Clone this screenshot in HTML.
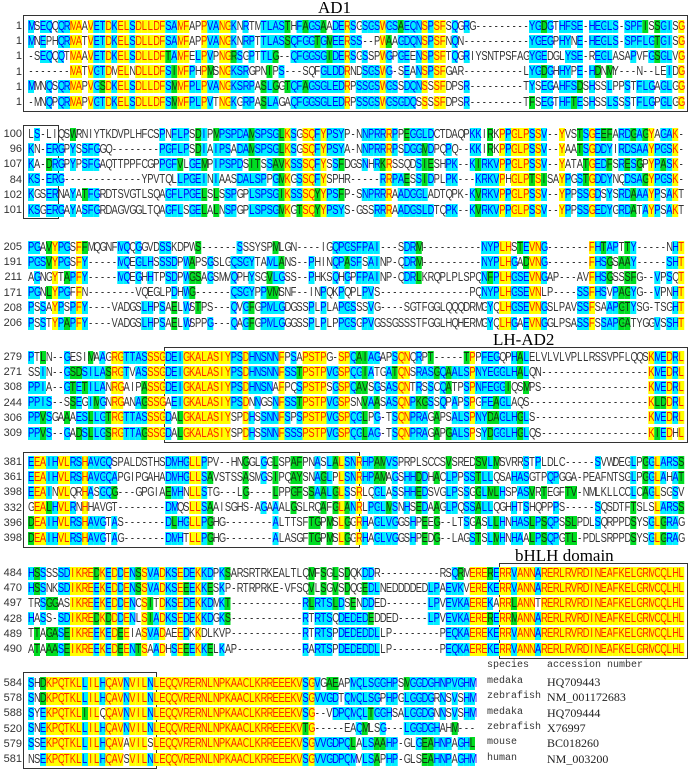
<!DOCTYPE html>
<html><head><meta charset="utf-8">
<style>
html,body{margin:0;padding:0;background:#fff;}
body{width:691px;height:779px;position:relative;overflow:hidden;font-family:"Liberation Sans",sans-serif;}
#wrap{position:absolute;left:0;top:0;width:691px;height:779px;overflow:hidden;}
.blk{position:absolute;left:0;width:691px;}
.num{position:absolute;left:-8px;width:30px;text-align:right;font-size:11px;line-height:14px;height:14px;color:#333;}
.seq{position:absolute;left:28px;white-space:nowrap;transform:scaleX(0.75);transform-origin:0 0;font-size:12.5px;line-height:13px;height:13px;color:#333;}
.seq span{display:inline-block;width:7.96px;height:13px;text-align:center;vertical-align:top;}
.y{background:#ffff00;color:#ff2200;}
.c{background:#00eeff;color:#0000ff;}
.g{background:#00dd22;color:#113311;}
.box{position:absolute;border:1.5px solid #333;box-sizing:border-box;}
.lab{position:absolute;font-family:"Liberation Serif",serif;font-size:17px;color:#000;line-height:17px;}
.sp{position:absolute;font-family:"Liberation Mono",monospace;font-size:10px;color:#333;line-height:12px;}
.ac{position:absolute;font-family:"Liberation Serif",serif;font-size:12px;color:#222;line-height:12px;}
</style></head><body>
<div id="wrap">
<div class="lab" style="left:318px;top:-1px;">AD1</div>
<div class="lab" style="left:493px;top:331px;">LH-AD2</div>
<div class="lab" style="left:515px;top:547px;">bHLH domain</div>

<div class="box" style="left:23px;top:15px;width:665px;height:97px;"></div>
<div class="box" style="left:23px;top:125px;width:36px;height:94px;"></div>
<div class="box" style="left:164px;top:347px;width:524px;height:96px;"></div>
<div class="box" style="left:23px;top:452px;width:337px;height:96px;"></div>
<div class="box" style="left:499px;top:563px;width:189px;height:96px;"></div>
<div class="box" style="left:23px;top:672px;width:134px;height:97px;"></div>

<div class="blk" style="top:26px;">
<div class="num">1</div><div class="num">1</div><div class="num">1</div><div class="num">1</div><div class="num">1</div><div class="num">1</div>
<div class="seq">MSEQQQRMAAVETDKELSDLLDFSAMFAPPVANGKNRTMTLASTHFAGSAADERSGSGSWGSAEQNSPSFSQGRG---------YGDGTHFSE-HEGLS-SPFISSGISG</div>
<div class="seq">MNEPHQRMATVETDKELSDLLDFSAMFAPPVANGKNRPTTLASSQFGGTGMEERSS--PWAAGDQNSPSFNQN-----------YGEGPHYNE-HEGLS-SPFLGTGISG</div>
<div class="seq">-SEQQQTMAAVETDKELSDLLDFTAMFELPVPNGRSGPTTLG--QFGGSGIDERSGSSPWGPGEENSPSFTQGRIYSNTPSFAGYGEDGLYSE-REGLASAPVFGSGLVG</div>
<div class="seq">-------MATVGTDMELNDLLDFSIMFPHPMSNGKSRGPNIPS---SQFGLDDRNDSGSWG-SEANSPSFGAR----------LYGDGHHYPE-HDNMY---N--LEIDG</div>
<div class="seq">MMNQSQRMAPVGSDKELSDLLDFSMMFPLPVANGKSRPASLGGTQFAGSGLEDRPSSGSWGSSDQNSSSFDPSR---------TYSEGAHFSDSHSSLPPSTFLGAGLGG</div>
<div class="seq">-MNQPQRMAPVGTDKELSDLLDFSMMFPLPVTNGKGRPASLAGAQFGGSGLEDRPSSGSWGSGDQSSSSFDPSR---------TFSEGTHFTESHSSLSSSTFLGPGLGG</div>
</div>

<div class="blk" style="top:134px;">
<div class="num">100</div><div class="num">96</div><div class="num">107</div><div class="num">84</div><div class="num">102</div><div class="num">101</div>
<div class="seq">LS-LIQSWRNIYTKDVPLHFCSPNFLPSDIPMPSPDAMSPSGLKSGSQFYPSYP-NNPRRRPPEGGLDCTDAQPKKIRKPPGLPSSV--YVSTSGEEFARDGAGYAGAK-</div>
<div class="seq">KN-ERGPYSSFGGQ--------PGFLPSDIAIPSADAMSPSGLKSGSQFYPSYA-NNPRRRPSDGGMDPQPQ--KKIRKPPGLPSSV--YAATSGDDYIRDSAAYPGSK-</div>
<div class="seq">KA-DRGPYPSFGAQTTPPFCGPPGFVLGEMPIPSPDSITSSAVKSSSQFYSSFDGSNHRKRSSQDSIESHPK--KIRKVPPGLPSSV--YATATGEDFSRESGPYPASK-</div>
<div class="seq">KS-ERG-------------YPVTQLLPGEINIAASDALSPPGMKGSSQFYSPHR-----RRPAESSIDPLPK---KRKVPHGLPTSISAYPGSTGDDYNQDSAGYPGSK-</div>
<div class="seq">KGSERNAYATFGRDTSVGTLSQAGFLPGELSLSSPGPLSPSGIKSSSQYYPSFP-SNPRRRAADGGLADTQPK-KVRKVPPGLPSSV--YPPSSGDSYSRDAAAYPSAKT</div>
<div class="seq">KSGERGAYASFGRDAGVGGLTQAGFLSGELALNSPGPLSPSGMKGTSQYYPSYS-GSSRRRAADGSLDTQPK--KVRKVPPGLPSSV--YPPSSGEDYGRDATAYPSAKT</div>
</div>

<div class="blk" style="top:247px;">
<div class="num">205</div><div class="num">191</div><div class="num">211</div><div class="num">171</div><div class="num">208</div><div class="num">206</div>
<div class="seq">PGAVYPGSFFMQGNFMQQGGVDSSKDPWS------SSSYSPMLGN----IGQPGSFPAI---SDRM----------NYPLHSTEVNG-------FHTAPTTY-----NHT</div>
<div class="seq">PGSVYPGSFY-----MQEGLHSSSDPWAPSGSLGQSGYTAMLANS--PHINQPASFSAINP-QDRM----------NYPLHGADVNG-------FHSGSAAY-----SHT</div>
<div class="seq">AGNGYTAPFY-----MQEGHHTPSDPWGSAGSMVQPHYSGVLGSS--PHKSQHGPFPAINP-QDRLKRQPLPLSPQNFPLHGSEVNGAP---AVFHSGSSSFG--VPSQT</div>
<div class="seq">PGNLYPGFFN--------VQEGLPDHWG------QSGYPPVMSNF--INPQKPQPLPVS---------------PQNYPLHGSEVNLP----SSFHSVPAGYG--VPNHT</div>
<div class="seq">PSSAYPSPFY----VADGSLHPSAELWSTPS---QVGFGPMLGDGSSPLPLAPGSSSVG----SGTFGGLQQQDRMGYQLHGSEVNGSLPAVSSFSAAPGTYSG-TSGHT</div>
<div class="seq">PSSTYPAPFY----VADGSLHPSAELWSPPG---QAGFGPMLGGGSSPLPLPPGSGPVGSSGSSSTFGGLHQHERMGYQLHGAEVNGGLPSASSFSSAPGATYGGVSSHT</div>
</div>

<div class="blk" style="top:357px;">
<div class="num">279</div><div class="num">271</div><div class="num">308</div><div class="num">244</div><div class="num">306</div><div class="num">309</div>
<div class="seq">PTLN--GESIMAAGRGTTASSSGDEIGKALASIYPSDHNSNNFPSAPSTPG-SPQAIAGAPSQNQRPT-----TPPFEGQPHALELVLVLVPLLRSSVPFLQQSKMEDRL</div>
<div class="seq">SSIN--GSDSILASRGTVASSSGDEIGKALASIYPSDHNSNNFSSTPSTPVGSPQGIATGATQNSRASGQAALSPNYEGGLHALQN------------------KMEDRL</div>
<div class="seq">PPIA--GTETILANRGAIPASSGDEIGKALASIYPSDHNSNAFPQSPSTPSGSPQAVSGSASQNTRSSCQATPSPNFEGGIQSMPS------------------KMEDRL</div>
<div class="seq">PPIS--SSEGIMGNRGANAGSSGAEIGKALASIYPSDNNGSNFSSTPSTPVGSPSNVAASASQNPKGSSQPAPSPGFEAGLAQS--------------------KLDDRL</div>
<div class="seq">PPVSGAAAESLLGTRGTTASSSGDALGKALASIYSPDHSSNNFSPSPSTPVGSPQGLPG-TSQNPRAGAPSALSPNYDAGLHGLS-------------------KMEDRL</div>
<div class="seq">PPVS--GADSLLGSRGTTAGSSGDALGKALASIYSPDHSSNNFSSSPSTPVGSPQGLAG-TSQNPRAGAPGALSPSYDGGLHGLQS------------------KIEDHL</div>
</div>

<div class="blk" style="top:462px;">
<div class="num">381</div><div class="num">361</div><div class="num">398</div><div class="num">332</div><div class="num">396</div><div class="num">398</div>
<div class="seq">EEAIHVLRSHAVGQSPALDSTHSDMHGLLPPV--HNGGLGGLSPAFPNASLALSNRHPAMVSPRPLSCCSVSREDSVLMSVRRSTPLDLC-----SVWDEGLPGGLARSS</div>
<div class="seq">EEAIHVLRSHAVGQAPGIPGAHADMHGLLSAVSTSSASMGSIPQAYSNAGLPLSNRHPAMAGSHHDDHACLPPSSTLLQSAHASGTPQPGGA-PEAFNTSGLPGGLAHAT</div>
<div class="seq">EEAINVLQRHASGQG---GPGIAEMHNLLSTG---LG----LPPGFSSAALGLSSRLQGLASSHHEDSVGLPSSGGLMLHSPASVRTEGFTV-NMLKLLCCLCAGLSGSV</div>
<div class="seq">GEALHVLRNHHAVGT--------DMQSLLSAAISGHS-AGAAALGSLRQAFGLANRLPGLMSNHSEDAAGLPQSSALLQGHHTSHQPPPS-----SQSDTFTSLSLARSS</div>
<div class="seq">DEAIHVLRSHAVGTAS-------DLHGLLPGHG--------ALTTSFTGPMSLGGRHAGLVGGSHPEEG--LTSGASLLHNHASLPSQPSSLPDLSQRPPDSYSGLGRAG</div>
<div class="seq">DEAIHVLRSHAVGTAG-------DMHTLLPGHG--------ALASGFTGPMSLGGRHAGLVGGSHPEDG--LAGSTSLMHNHAALPSQPGTL-PDLSRPPDSYSGLGRAG</div>
</div>

<div class="blk" style="top:573px;">
<div class="num">484</div><div class="num">470</div><div class="num">497</div><div class="num">428</div><div class="num">489</div><div class="num">490</div>
<div class="seq">HSSSSSDIKREDKEDDENSSVADKSEDEKKDPKSARSRTRKEALTLQMFSGLSDQKDDR----------RSQRMERERERRVANNARERLRVRDINEAFKELGRMCQLHL</div>
<div class="seq">HSSNKSDIKREEKEDDENSSVADKSEEEKKESKP-RTRPRKE-VFSQVLSGVSDQGEDLNEDDDDEDLPAEVKVEREKERRVANNARERLRVRDINEAFKELGRMCQLHL</div>
<div class="seq">TRSGGASIKREEKEDDENCSITDKSEDEKKDMKT------------RLRTSLDSENDDED-------LPVEVKAEREKARRLANNTRERLRVRDINEAFKELGRMCQLHL</div>
<div class="seq">HASS-SDIKREDKDDDENLSIADKSEDEKKDGKS------------RTRTSQDEDEDEDDED-----LPVEVKAERERERRMANNARERLRVRDINEAFKELGRMCQLHL</div>
<div class="seq">TTAGASEIKREEKEDEEIASVADAEEDKKDLKVP------------RTRTSPDEDEDDLLP--------PEQKAEREKERRVANNARERLRVRDINEAFKELGRMCQLHL</div>
<div class="seq">ATAAASEIKREEKEDEENTSAADHSEEEKKELKAP-----------RARTSPDEDEDDLLP--------PEQKAEREKERRVANNARERLRVRDINEAFKELGRMCQLHL</div>
</div>

<div class="blk" style="top:683px;">
<div class="num">584</div><div class="num">578</div><div class="num">588</div><div class="num">520</div><div class="num">579</div><div class="num">581</div>
<div class="seq">SHDKPQTKLLILHQAVNVILNLEQQVRERNLNPKAACLKRREEEKVSGVGAEAPMQLSGGHPSMGGDGHNPVGHM</div>
<div class="seq">SNDKPQTKLLILHQAVNVILNLEQQVRERNLNPKAACLKRREEEKVSGVVGDTQMQLSGPHPGLGGDGRNSVSHM</div>
<div class="seq">SYEKPQTKLIILQQAVNVILNLEQQVRERNLNPKAACLKRREEEKVSG--VDPQMQLTGGHSALGGDGNNSVSHM</div>
<div class="seq">SNEKPQTKLLILHQAVNVILNLEQQVRERNLNPKAACLKRREEEKVTG-----EAQMLSG---LGGDGHAHM---</div>
<div class="seq">SSEKPQTKLLILHQAVAVILSLEQQVRERNLNPKAACLKRREEEKVSGVVGDPQLALSAAHP-GLGEAHNPAGHL</div>
<div class="seq">NSEKPQTKLLILHQAVSVILNLEQQVRERNLNPKAACLKRREEEKVSGVVGDPQMVLSAPHP-GLSEAHNPAGHM</div>
</div>

<div class="sp" style="left:487px;top:660px;">species</div>
<div class="sp" style="left:547px;top:660px;">accession number</div>
<div class="sp" style="left:487px;top:676px;">medaka</div><div class="ac" style="left:547px;top:676px;">HQ709443</div>
<div class="sp" style="left:487px;top:691px;">zebrafish</div><div class="ac" style="left:547px;top:691px;">NM_001172683</div>
<div class="sp" style="left:487px;top:707px;">medaka</div><div class="ac" style="left:547px;top:707px;">HQ709444</div>
<div class="sp" style="left:487px;top:722px;">zebrafish</div><div class="ac" style="left:547px;top:722px;">X76997</div>
<div class="sp" style="left:487px;top:737px;">mouse</div><div class="ac" style="left:547px;top:737px;">BC018260</div>
<div class="sp" style="left:487px;top:753px;">human</div><div class="ac" style="left:547px;top:753px;">NM_003200</div>
</div>
<script>
(function(){
var P=15.2;
var groups=['ST','DE','KR','ILVM','FYW','NQ','AG','H','P','C'];
function grp(ch){for(var i=0;i<groups.length;i++)if(groups[i].indexOf(ch)>=0)return i;return -1;}
var blks=document.querySelectorAll('.blk');
for(var b=0;b<blks.length;b++){
  var nums=blks[b].querySelectorAll('.num');
  var seqs=blks[b].querySelectorAll('.seq');
  var rows=[];
  for(var i=0;i<seqs.length;i++){rows.push(seqs[i].textContent.trim());}
  for(var i=0;i<nums.length;i++){nums[i].style.top=(i*P-7)+'px';}
  var L=0;rows.forEach(function(r){if(r.length>L)L=r.length;});
  var cls=rows.map(function(){return [];});
  for(var c=0;c<L;c++){
    var col=rows.map(function(r){return r[c]||'-';});
    var cnt={},gc={};
    col.forEach(function(x){if(x!=='-'){cnt[x]=(cnt[x]||0)+1;var g=grp(x);gc[g]=(gc[g]||0)+1;}});
    var all=col.every(function(x){return x!=='-'&&x===col[0];});
    col.forEach(function(x,ri){
      var k='';
      if(x==='-')k='';
      else if(all)k='y';
      else if(cnt[x]>=3)k='c';
      else if(gc[grp(x)]>=3)k='g';
      cls[ri].push(k);
    });
  }
  for(var i=0;i<seqs.length;i++){
    var s=rows[i],h='';
    for(var c=0;c<s.length;c++){h+='<span'+(cls[i][c]?' class="'+cls[i][c]+'"':'')+'>'+s[c]+'</span>';}
    seqs[i].innerHTML=h;
    seqs[i].style.top=(i*P-6.5)+'px';
  }
}
})();
</script>
</body></html>
